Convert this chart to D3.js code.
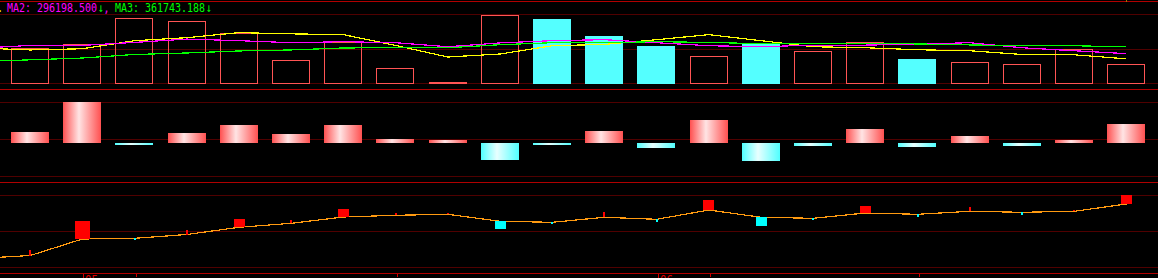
<!DOCTYPE html>
<html>
<head>
<meta charset="utf-8">
<script src="https://cdn.jsdelivr.net/npm/d3@7"></script>
<style>
  html, body { margin: 0; padding: 0; background: #000; overflow: hidden; }
  svg { display: block; }
  text { font-family: "DejaVu Sans Mono", monospace; }
</style>
</head>
<body>
<div id="chart"></div>
<script>
var svgWidth = 1158;
var svgHeight = 278;

// ---- data ----
// daily volume (top panel)
var volume = [353700, 393000, 648500, 619000, 494000, 235800, 412600, 157200, 14700, 678000, 631700,
              464700, 366500, 275100, 402800, 324200, 412600, 248600, 216200, 196500, 343900, 196500];
// true = down day (filled cyan), false = up day (red outline)
var volDown = [false, false, false, false, false, false, false, false, false, false, true,
               true, true, false, true, false, false, true, false, false, false, false];

// moving averages, first value is the day before the window (off screen)
var ma1 = [351700, 332100, 343900, 422500, 452000, 501100, 489300, 481400, 376300, 263300, 292800, 373400,
           386100, 432300, 481400, 422500, 363500, 353700, 334100, 324200, 287900, 284900, 245600];
var ma2 = [348800, 376300, 376300, 405800, 438200, 422500, 402800, 412700, 402800, 363500, 400900, 422500,
           432300, 402800, 373400, 363500, 379200, 379200, 389100, 402800, 353700, 324200, 296198.5];
var ma3 = [219100, 235800, 253500, 287900, 302600, 322300, 332100, 351700, 353700, 353700, 383200, 402800,
           402800, 412700, 405800, 393000, 393000, 393000, 391000, 381200, 373400, 373400, 361743.188];

// middle panel histogram
var diff = [10.7, 40.7, -2, 9.7, 17.7, 8.7, 17.7, 3.7, 2.7, -17.3, -2,
            11.7, -5, 22.7, -18, -3, 13.7, -4, 6.7, -3, 2.7, 18.7];

// bottom panel: running line (first value = day before) and daily change markers
var flow = [15, 18, 34.5, 35.2, 39, 46.2, 50.2, 56.5, 58.2, 59.2, 52.2, 51.2,
            56.2, 54.2, 63.5, 56.2, 55.2, 60.5, 59.2, 62.2, 61.2, 62.2, 69.5];
var flowChg = [5.7, 18, -2, 4.3, 8, 3.7, 8, 2.7, 1.7, -8, -1.3,
               5.7, -2.7, 9.7, -8.7, -2, 7, -2.7, 4, -3, 1.7, 9];

// date axis
var tickDays = [1, 2, 7, 12, 13, 17];
var tickLabels = {1: "05", 12: "06"};

// ---- colours ----
var RED = "#ff5454", CYAN = "#54ffff";
var GRID_DARK = "#500000", GRID_BRIGHT = "#b00000";

var svg = d3.select("#chart").append("svg")
  .attr("width", svgWidth)
  .attr("height", svgHeight)
  .style("background", "#000");

var defs = svg.append("defs");
function grad(id, edge, mid) {
  var g = defs.append("linearGradient").attr("id", id)
    .attr("x1", "0%").attr("x2", "100%").attr("y1", "0%").attr("y2", "0%");
  g.append("stop").attr("offset", "0%").attr("stop-color", edge);
  g.append("stop").attr("offset", "42%").attr("stop-color", mid);
  g.append("stop").attr("offset", "100%").attr("stop-color", edge);
}
grad("gRed", "#ff5050", "#ffe4e4");
grad("gCyan", "#50ffff", "#e8ffff");

// x scale shared by all panels
var x = d3.scaleBand()
  .domain(d3.range(volume.length))
  .range([4.15, 1152.55])
  .paddingInner(0.2625)
  .paddingOuter(0.13125);
function cx(i) { return x(0) + x.bandwidth() / 2 + i * x.step(); } // i = -1 is the day before

// gridlines
var dark = [14.5, 49.5, 83.5, 102.5, 139.5, 176.5, 195.5, 231.5, 267.5];
var bright = [1.5, 89.5, 182.5, 273.5];
svg.append("g").selectAll("line").data(dark).enter().append("line")
  .attr("x1", 0).attr("x2", svgWidth).attr("y1", d => d).attr("y2", d => d)
  .attr("stroke", GRID_DARK).attr("shape-rendering", "crispEdges");
svg.append("g").selectAll("line").data(bright).enter().append("line")
  .attr("x1", 0).attr("x2", svgWidth).attr("y1", d => d).attr("y2", d => d)
  .attr("stroke", GRID_BRIGHT).attr("shape-rendering", "crispEdges");

// ---- top panel: volume ----
var yVol = d3.scaleLinear().domain([0, 678000]).range([84, 14.5]);
var volG = svg.append("g");
volG.selectAll("rect.vol").data(volume).enter().append("rect")
  .attr("class", "vol")
  .attr("x", (d, i) => volDown[i] ? Math.round(x(i)) : Math.round(x(i)) + 0.5)
  .attr("y", (d, i) => volDown[i] ? Math.round(yVol(d)) : Math.round(yVol(d)) + 0.5)
  .attr("width", (d, i) => volDown[i] ? Math.round(x.bandwidth()) : Math.round(x.bandwidth()) - 1)
  .attr("height", (d, i) => Math.max(1, yVol(0) - Math.round(yVol(d)) - (volDown[i] ? 0 : 1)))
  .attr("fill", (d, i) => volDown[i] ? CYAN : "none")
  .attr("stroke", (d, i) => volDown[i] ? "none" : RED)
  .attr("shape-rendering", "crispEdges");

var maLine = d3.line().x((d, k) => cx(k - 1)).y(d => yVol(d));
[[ma1, "#ffff00"], [ma2, "#ff00ff"], [ma3, "#00ff00"]].forEach(function(m) {
  volG.append("path").datum(m[0])
    .attr("d", maLine)
    .attr("fill", "none")
    .attr("stroke", m[1])
    .attr("stroke-width", 1.2)
    .attr("shape-rendering", "crispEdges");
});

// header text
var header = svg.append("g").attr("font-size", "12.5px");
function htxt(str, x0, color, n) {
  header.append("text").attr("x", x0).attr("y", 12.3)
    .attr("fill", color)
    .attr("textLength", n * 6).attr("lengthAdjust", "spacingAndGlyphs")
    .text(str);
}
htxt(".", -3, "#ffff00", 1);
htxt("MA2: " + d3.format(".3f")(ma2[ma2.length - 1]), 7, "#ff00ff", 15);
htxt("\u2193", 98, "#00ff00", 1);
htxt(",", 103.5, "#ff00ff", 1);
htxt("MA3: " + d3.format(".3f")(ma3[ma3.length - 1]), 115, "#00ff00", 15);
htxt("\u2193", 206, "#00ff00", 1);

svg.append("rect")
  .attr("x", Math.round(cx(volume.length - 1))).attr("y", 0)
  .attr("width", 1).attr("height", 2).attr("fill", "#9a7a00");

// ---- middle panel: histogram ----
var yDiff = d3.scaleLinear().domain([-34, 40]).range([176.7, 102.7]);
svg.append("g").selectAll("rect").data(diff).enter().append("rect")
  .attr("x", (d, i) => Math.round(x(i)))
  .attr("y", d => Math.round(yDiff(Math.max(0, d))))
  .attr("width", Math.round(x.bandwidth()))
  .attr("height", d => Math.max(1, Math.round(Math.abs(yDiff(d) - yDiff(0)))))
  .attr("fill", d => d >= 0 ? "url(#gRed)" : "url(#gCyan)")
  .attr("shape-rendering", "crispEdges");

// ---- bottom panel ----
var yFlow = d3.scaleLinear().domain([0, 91]).range([273.5, 182.5]);
var flowG = svg.append("g");
flowG.append("path").datum(flow)
  .attr("d", d3.line().x((d, k) => cx(k - 1)).y(d => yFlow(d)))
  .attr("fill", "none")
  .attr("stroke", "#ff9a10")
  .attr("stroke-width", 1.2)
  .attr("shape-rendering", "crispEdges");

function markW(d) { var a = Math.abs(d); return a >= 15 ? 15 : a >= 6 ? 11 : 2; }
flowG.selectAll("rect").data(flowChg).enter().append("rect")
  .attr("x", (d, i) => Math.round(cx(i) - markW(d) / 2))
  .attr("y", (d, i) => d >= 0 ? yFlow(flow[i + 1] + d) : yFlow(flow[i + 1]))
  .attr("width", d => markW(d))
  .attr("height", d => Math.abs(yFlow(0) - yFlow(Math.abs(d))))
  .attr("fill", d => d >= 0 ? "#ff0000" : "#00ffff")
  .attr("shape-rendering", "crispEdges");

// date axis (mostly cut off at the bottom edge)
var axis = svg.append("g");
axis.selectAll("line").data(tickDays).enter().append("line")
  .attr("x1", d => Math.round(cx(d)) + 1.5).attr("x2", d => Math.round(cx(d)) + 1.5)
  .attr("y1", 274).attr("y2", d => tickLabels[d] ? 278 : 277)
  .attr("stroke", "#d00000").attr("shape-rendering", "crispEdges");
axis.selectAll("text").data(tickDays.filter(d => tickLabels[d])).enter().append("text")
  .attr("x", d => Math.round(cx(d)) + 3)
  .attr("y", 284)
  .attr("font-size", "12px")
  .attr("fill", "#e00000")
  .attr("textLength", 13).attr("lengthAdjust", "spacingAndGlyphs")
  .text(d => tickLabels[d]);
</script>
</body>
</html>
